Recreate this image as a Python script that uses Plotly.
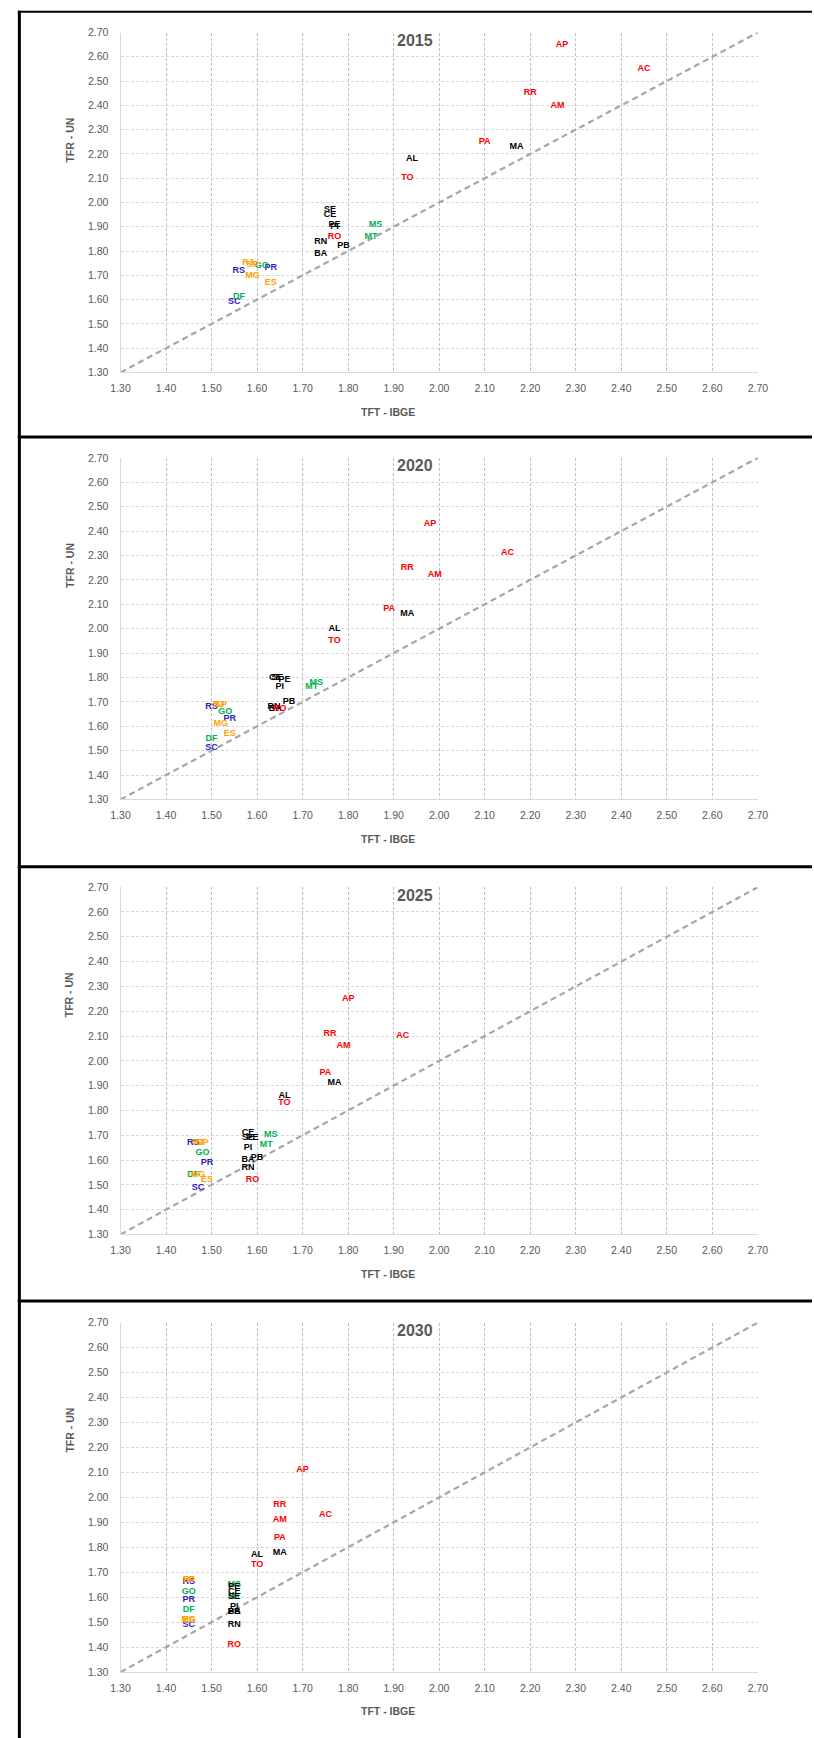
import plotly.graph_objects as go

# State codes and their region (used for label colour)
states = ["AC", "AL", "AP", "AM", "BA", "CE", "DF", "ES", "GO", "MA", "MT", "MS", "MG", "PA",
          "PB", "PR", "PE", "PI", "RJ", "RN", "RS", "RO", "RR", "SC", "SP", "SE", "TO"]
regions = ["N", "NE", "N", "N", "NE", "NE", "CO", "SE", "CO", "NE", "CO", "CO", "SE", "N",
           "NE", "S", "NE", "NE", "SE", "NE", "S", "N", "N", "S", "SE", "NE", "N"]

years = ["2015", "2020", "2025", "2030"]

# TFT - IBGE (x) and TFR - UN (y) per state, same order as `states`
ibge_2015 = [2.45, 1.94, 2.27, 2.26, 1.74, 1.76, 1.56, 1.63, 1.61, 2.17, 1.85, 1.86, 1.59, 2.10,
             1.79, 1.63, 1.77, 1.77, 1.58, 1.74, 1.56, 1.77, 2.20, 1.55, 1.59, 1.76, 1.93]
un_2015 = [2.55, 2.18, 2.65, 2.40, 1.79, 1.95, 1.61, 1.67, 1.74, 2.23, 1.86, 1.91, 1.70, 2.25,
           1.82, 1.73, 1.91, 1.90, 1.75, 1.84, 1.72, 1.86, 2.45, 1.59, 1.745, 1.97, 2.10]

ibge_2020 = [2.15, 1.77, 1.98, 1.99, 1.64, 1.64, 1.50, 1.54, 1.53, 1.93, 1.72, 1.73, 1.52, 1.89,
             1.67, 1.54, 1.66, 1.65, 1.515, 1.637, 1.50, 1.65, 1.93, 1.50, 1.52, 1.645, 1.77]
un_2020 = [2.31, 2.00, 2.43, 2.22, 1.67, 1.80, 1.55, 1.57, 1.66, 2.06, 1.76, 1.78, 1.61, 2.08,
           1.70, 1.63, 1.79, 1.76, 1.69, 1.68, 1.68, 1.67, 2.25, 1.51, 1.69, 1.80, 1.95]

ibge_2025 = [1.92, 1.66, 1.80, 1.79, 1.58, 1.58, 1.46, 1.49, 1.48, 1.77, 1.62, 1.63, 1.47, 1.75,
             1.60, 1.49, 1.59, 1.58, 1.47, 1.58, 1.46, 1.59, 1.76, 1.47, 1.48, 1.58, 1.66]
un_2025 = [2.10, 1.86, 2.25, 2.06, 1.60, 1.71, 1.54, 1.52, 1.63, 1.91, 1.66, 1.70, 1.54, 1.95,
           1.61, 1.59, 1.69, 1.65, 1.67, 1.57, 1.67, 1.52, 2.11, 1.49, 1.67, 1.69, 1.83]

ibge_2030 = [1.75, 1.60, 1.70, 1.65, 1.55, 1.55, 1.45, 1.45, 1.45, 1.65, 1.55, 1.55, 1.45, 1.65,
             1.55, 1.45, 1.55, 1.55, 1.45, 1.55, 1.45, 1.55, 1.65, 1.45, 1.45, 1.55, 1.60]
un_2030 = [1.93, 1.77, 2.11, 1.91, 1.54, 1.62, 1.55, 1.51, 1.62, 1.78, 1.60, 1.65, 1.51, 1.84,
           1.54, 1.59, 1.64, 1.56, 1.67, 1.49, 1.66, 1.41, 1.97, 1.49, 1.67, 1.60, 1.73]

ibge = [ibge_2015, ibge_2020, ibge_2025, ibge_2030]
un = [un_2015, un_2020, un_2025, un_2030]

axis_ticks = [1.30, 1.40, 1.50, 1.60, 1.70, 1.80, 1.90, 2.00, 2.10, 2.20, 2.30, 2.40, 2.50, 2.60, 2.70]
diagonal = [1.30, 2.70]

region_colors = {"S": "#3318BB", "CO": "#00B050", "NE": "#000000", "SE": "#FFA000", "N": "#FF0000"}
draw_order = ["S", "CO", "NE", "SE", "N"]

W, H = 814, 1738
# vertical extent of each plot area (top, bottom) in pixels
panel_px = [(26.7, 369.0), (455.0, 799.0), (887.3, 1237.0), (1325.7, 1677.7)]
plot_left, plot_right = 113.3, 766.7


def px(x):
    return x / W


def py(y):
    return 1 - y / H


TICK_GRAY = "#595959"
fig = go.Figure()
annotations = []
shapes = []

for i, year in enumerate(years):
    n = "" if i == 0 else str(i + 1)
    xa, ya = "x" + n, "y" + n
    top, bottom = panel_px[i]

    # 1:1 reference line
    fig.add_trace(go.Scatter(x=diagonal, y=diagonal, mode="lines", xaxis=xa, yaxis=ya,
                             line=dict(color="#A6A6A6", width=2.2, dash="6px,4px"),
                             hoverinfo="skip", showlegend=False))
    # state labels, one trace per region
    for reg in draw_order:
        idx = [k for k, r in enumerate(regions) if r == reg]
        fig.add_trace(go.Scatter(
            x=[ibge[i][k] for k in idx], y=[un[i][k] for k in idx],
            text=[states[k] for k in idx], mode="text", textposition="middle center",
            textfont=dict(family="Liberation Sans, Arial, sans-serif", size=9,
                          color=region_colors[reg], weight="bold"),
            xaxis=xa, yaxis=ya, showlegend=False, cliponaxis=False))

    common = dict(range=[1.30, 2.70], tickvals=axis_ticks, tickformat=".2f",
                  showline=True, linecolor="#D9D9D9", linewidth=1, zeroline=False,
                  ticks="", tickfont=dict(family="Liberation Sans, Arial, sans-serif",
                                          size=10.5, color=TICK_GRAY),
                  griddash="3px,2px", gridwidth=1, fixedrange=True)
    fig.update_layout(**{
        "xaxis" + n: dict(common, domain=[px(plot_left), px(plot_right)], anchor=ya,
                          gridcolor="#BFBFBF", ticklabelstandoff=6),
        "yaxis" + n: dict(common, domain=[py(bottom), py(top)], anchor=xa,
                          gridcolor="#D9D9D9", ticklabelstandoff=9),
    })

    annotations.append(dict(text="<b>" + year + "</b>", x=px(415.4), y=py(top + 8.0),
                            xref="paper", yref="paper", showarrow=False,
                            xanchor="center", yanchor="middle",
                            font=dict(family="Liberation Sans, Arial, sans-serif", size=16,
                                      color=TICK_GRAY)))
    annotations.append(dict(text="<b>TFT - IBGE</b>", x=px(387.5), y=py(bottom + 39.5),
                            xref="paper", yref="paper", showarrow=False,
                            xanchor="center", yanchor="middle",
                            font=dict(family="Liberation Sans, Arial, sans-serif", size=10.5,
                                      color=TICK_GRAY)))
    annotations.append(dict(text="<b>TFR - UN</b>", x=px(61.3), y=py(top + 108.0),
                            xref="paper", yref="paper", showarrow=False, textangle=-90,
                            xanchor="center", yanchor="middle",
                            font=dict(family="Liberation Sans, Arial, sans-serif", size=10.5,
                                      color=TICK_GRAY)))

# panel frames
for yb, wdt in [(5.7, 2), (434.0, 3), (866.7, 3), (1304.0, 3)]:
    shapes.append(dict(type="line", xref="paper", yref="paper", x0=px(8), x1=1.01,
                       y0=py(yb), y1=py(yb), line=dict(color="#000000", width=wdt)))
shapes.append(dict(type="line", xref="paper", yref="paper", x0=px(9.6), x1=px(9.6),
                   y0=py(4.7), y1=-0.01, line=dict(color="#000000", width=3)))

fig.update_layout(width=W, height=H, margin=dict(l=0, r=0, t=0, b=0),
                  paper_bgcolor="#FFFFFF", plot_bgcolor="#FFFFFF",
                  annotations=annotations, shapes=shapes, showlegend=False)

fig.write_html("out.html")
